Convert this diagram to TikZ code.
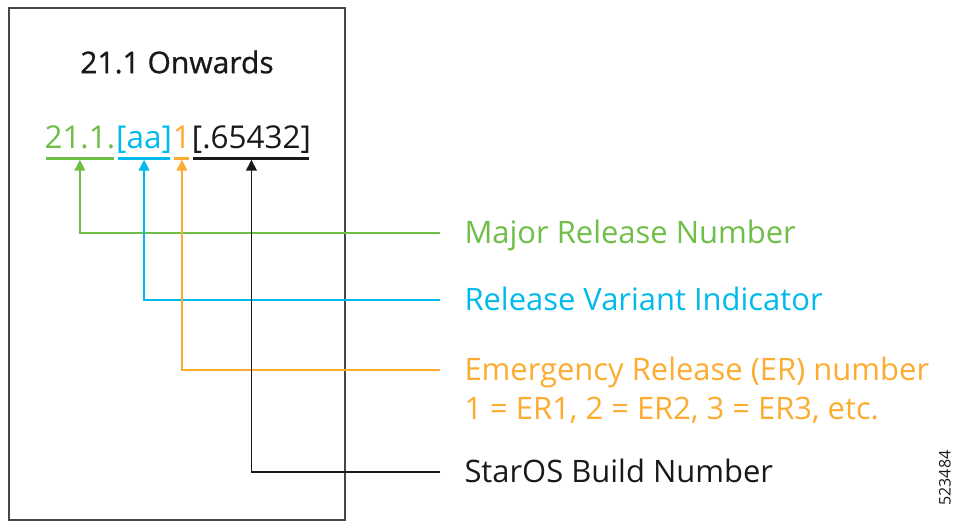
\documentclass[tikz,border=0pt]{standalone}
\usepackage{fontspec}
\setmainfont{Open Sans}
\usetikzlibrary{arrows.meta,positioning}
\definecolor{relgreen}{RGB}{110,190,72}
\definecolor{relblue}{RGB}{0,186,235}
\definecolor{relorange}{RGB}{252,172,48}
\definecolor{relframe}{RGB}{70,70,70}
\definecolor{relblack}{RGB}{25,25,25}
\tikzset{every picture/.style={line width=0.75pt}}
\tikzset{
  seg/.style={inner xsep=0pt, inner ysep=0pt, text depth=7.5pt, font=\fontsize{23.6}{27}\selectfont},
  uline/.style={line width=2.2pt, shorten <=1.5pt, shorten >=1.5pt},
  pointer/.style={line width=1.1pt, shorten >=1pt, -{Triangle[length=8pt,width=8pt]}},
  lbl/.style={anchor=west, inner xsep=18pt, inner ysep=0pt, text height=16pt, text depth=0pt, font=\fontsize{23.2}{26}\selectfont},
}

\begin{document}
\begin{tikzpicture}[x=0.75pt,y=0.75pt,yscale=-1,xscale=1]
\useasboundingbox (0,0) rectangle (962,522);

% Frame
\draw [color=relframe, line width=1.3pt] (9,8) rectangle (345,520);

% Text Node
\node [inner sep=0pt, text=relblack, font=\fontsize{22.5}{26}\selectfont\addfontfeature{FakeBold=0.8}] (title) at (177,62) {21.1 Onwards};

% version string
\node [seg, anchor=base west, text=relgreen] (segMajor) at (44,148) {21.1.};
\node [seg, base right=0pt of segMajor, text=relblue] (segVariant) {[aa]};
\node [seg, base right=0pt of segVariant, text=relorange] (segER) {1};
\node [seg, base right=0pt of segER, text=relblack] (segBuild) {[.65432]};

\draw [uline, relgreen] (segMajor.south west) -- (segMajor.south east);
\draw [uline, relblue] (segVariant.south west) -- (segVariant.south east);
\draw [uline, relorange] (segER.south west) -- (segER.south east);
\draw [uline, relblack] (segBuild.south west) -- (segBuild.south east);

% labels
\node [lbl, text=relgreen] (lblMajor) at (440,233) {Major Release Number};
\node [lbl, text=relblue] (lblVariant) at (440,300) {Release Variant Indicator};
\node [lbl, text=relorange] (lblER) at (440,370) {Emergency Release (ER) number};
\node [lbl, text=relorange, below right=12pt and 0pt of lblER.south west] (lblERnote) {1 = ER1, 2 = ER2, 3 = ER3, etc.};
\node [lbl, text=relblack] (lblBuild) at (440,472) {StarOS Build Number};

% connectors
\draw [pointer, relgreen] (lblMajor.west) -| (segMajor.south);
\draw [pointer, relblue] (lblVariant.west) -| (segVariant.south);
\draw [pointer, relorange] (lblER.west) -| (segER.south);
\draw [pointer, relblack] (lblBuild.west) -| (segBuild.south);

% Text Node
\node [rotate=90, inner sep=0pt, text=relblack, font=\fontsize{12}{14}\selectfont] (figid) at (945,478) {523484};
\end{tikzpicture}
\end{document}
